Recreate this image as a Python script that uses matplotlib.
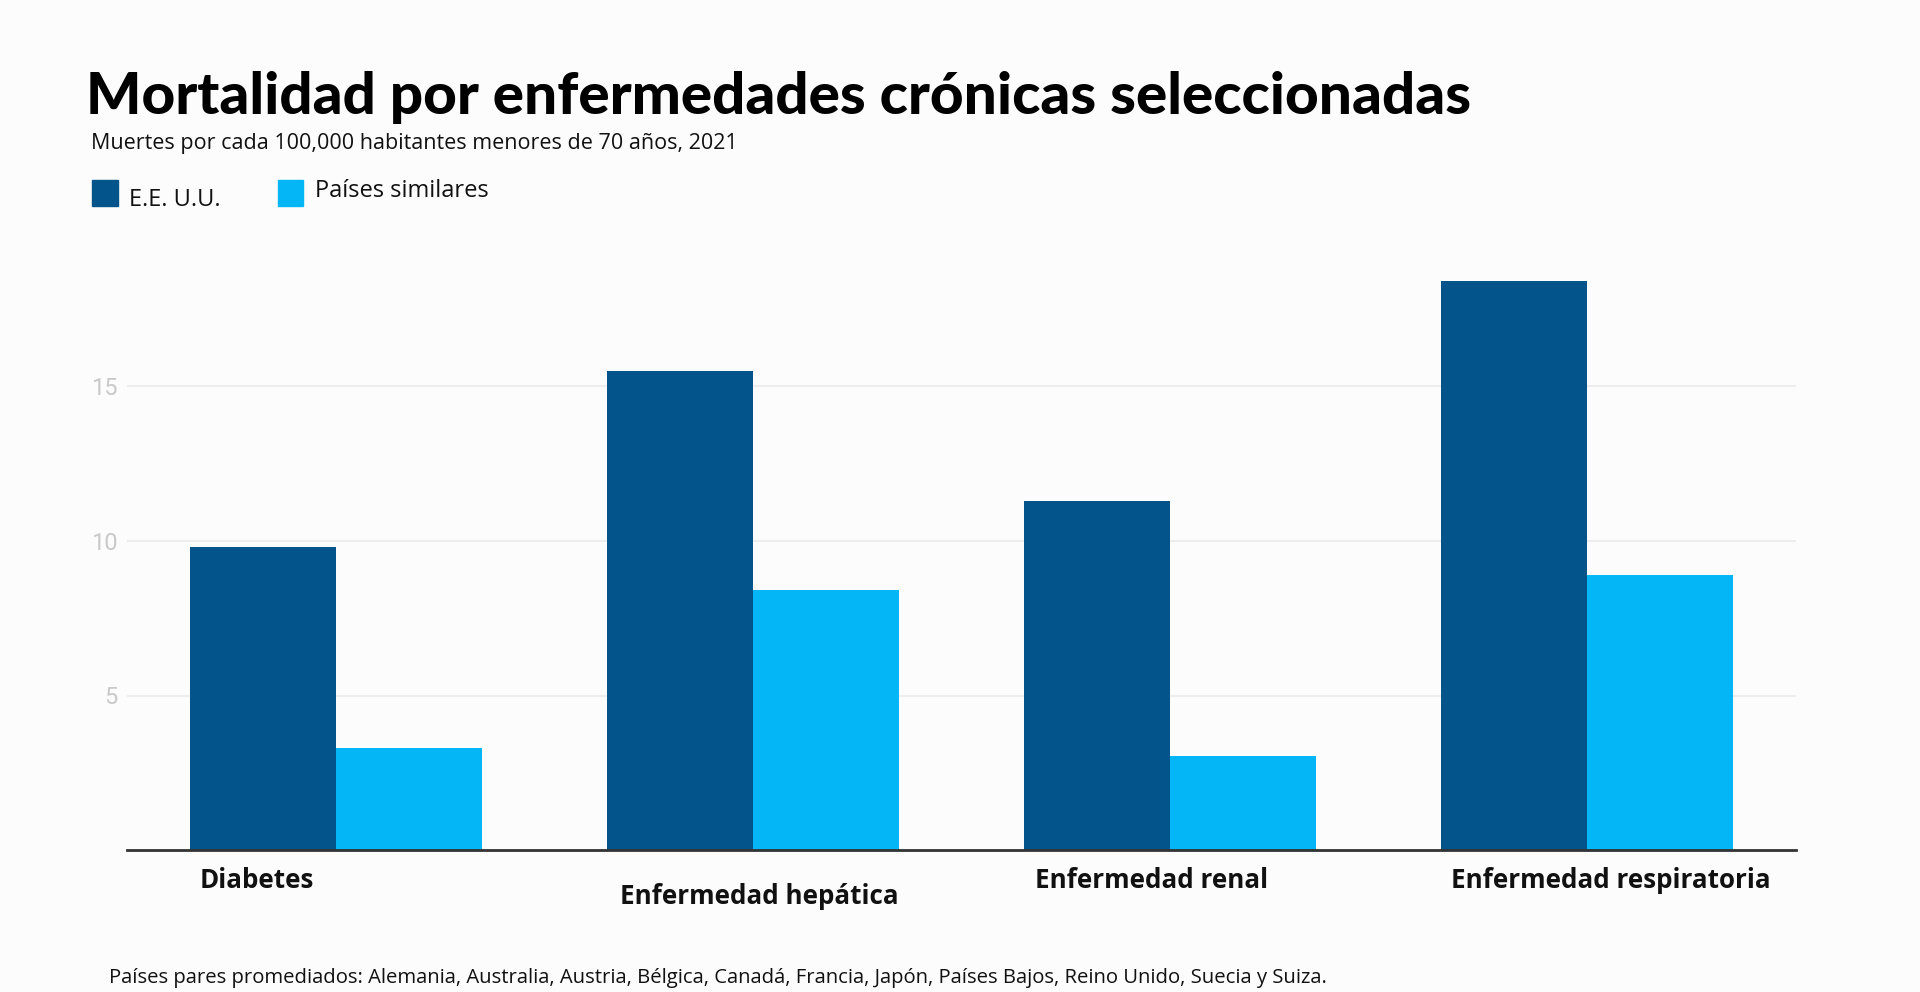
import matplotlib
matplotlib.use("Agg")
import matplotlib.pyplot as plt
import numpy as np
from matplotlib.patches import Rectangle

categories = ["Diabetes", "Enfermedad hepática", "Enfermedad renal", "Enfermedad respiratoria"]
us_values = [9.8, 15.5, 11.3, 18.4]
peer_values = [3.3, 8.4, 3.05, 8.9]
series_names = ["E.E. U.U.", "Países similares"]
yticks = [5, 10, 15]

title = "Mortalidad por enfermedades crónicas seleccionadas"
subtitle = "Muertes por cada 100,000 habitantes menores de 70 años, 2021"
footer = ("Países pares promediados: Alemania, Australia, Austria, Bélgica, Canadá, "
          "Francia, Japón, Países Bajos, Reino Unido, Suecia y Suiza.")

US_COLOR = "#03548a"
PEER_COLOR = "#05b6f7"
BG = "#fcfcfc"

W, H = 1920, 992
fig = plt.figure(figsize=(W / 100, H / 100), dpi=100, facecolor=BG)

# axes placement in pixels
ax_left, ax_right = 127, 1796
y0_px = 850
px_per_unit = 154.5 / 5
ymax = 20
ax_top = y0_px - ymax * px_per_unit
ax = fig.add_axes([ax_left / W, 1 - y0_px / H, (ax_right - ax_left) / W, (y0_px - ax_top) / H])
ax.set_facecolor(BG)

x = np.arange(len(categories))
bw = 0.35
ax.bar(x - bw / 2, us_values, bw, color=US_COLOR, zorder=3)
ax.bar(x + bw / 2, peer_values, bw, color=PEER_COLOR, zorder=3)

ax.set_xlim(-0.5, 3.5)
ax.set_ylim(0, ymax)
ax.set_yticks(yticks)
ax.set_yticklabels([str(t) for t in yticks], fontsize=17, color="#c9c9c9", family="Roboto")
ax.tick_params(axis="y", length=0, pad=7)
ax.set_xticks([])
ax.grid(axis="y", color="#ebebeb", linewidth=1.2, zorder=0)
for s in ["top", "right", "left"]:
    ax.spines[s].set_visible(False)
ax.spines["bottom"].set_color("#333333")
ax.spines["bottom"].set_linewidth(2)
ax.spines["bottom"].set_zorder(4)

# category labels (irregular placement as in reference)
label_x = [-0.19, 1.016, 1.955, 3.055]
label_y_px = [881, 896, 881, 881]
for cx, ly, lab in zip(label_x, label_y_px, categories):
    ax.text(cx, -(ly - y0_px) / px_per_unit, lab, ha="center", va="center",
            fontsize=18.7, fontweight="bold", family="Open Sans", color="#111111",
            clip_on=False)

# title, subtitle
fig.text(86 / W, 1 - 114 / H, title, fontsize=42, fontweight="black", family="Lato",
         color="#000000", ha="left", va="baseline")
fig.text(91 / W, 1 - 144 / H, subtitle, fontsize=15.5, family="Open Sans",
         color="#111111", ha="left", va="center")

# legend
fig.patches.append(Rectangle((92 / W, 1 - 206 / H), 26 / W, 26 / H, transform=fig.transFigure,
                             color=US_COLOR))
fig.patches.append(Rectangle((278 / W, 1 - 206 / H), 25 / W, 26 / H, transform=fig.transFigure,
                             color=PEER_COLOR))
fig.text(129 / W, 1 - 200 / H, series_names[0], fontsize=17, family="Open Sans",
         color="#111111", ha="left", va="center")
fig.text(315 / W, 1 - 191 / H, series_names[1], fontsize=17, family="Open Sans",
         color="#111111", ha="left", va="center")

# footer
fig.text(109 / W, 1 - 978 / H, footer, fontsize=14.6, family="Open Sans",
         color="#111111", ha="left", va="center")

fig.savefig("out.png", dpi=100, facecolor=BG)
